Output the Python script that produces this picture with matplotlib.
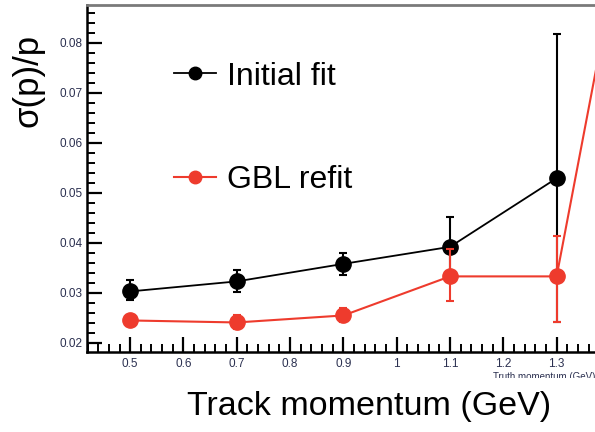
import matplotlib
matplotlib.use("Agg")
import matplotlib.pyplot as plt
from matplotlib.ticker import MultipleLocator, FixedLocator, FixedFormatter
from matplotlib.transforms import Bbox, TransformedBbox
from matplotlib.lines import Line2D

plt.rcParams["font.family"] = ["Liberation Sans", "DejaVu Sans"]

momentum = [0.5, 0.7, 0.9, 1.1, 1.3]
initial_fit = [0.0303, 0.0323, 0.0358, 0.0392, 0.0529]
initial_err_lo = [0.0018, 0.0022, 0.0022, 0.0060, 0.0287]
initial_err_hi = [0.0022, 0.0022, 0.0022, 0.0060, 0.0288]

gbl_momentum = [0.5, 0.7, 0.9, 1.1, 1.3, 1.5]
gbl_refit = [0.0245, 0.0241, 0.0255, 0.0333, 0.0333, 0.145]
gbl_err_lo = [0.0006, 0.0014, 0.0014, 0.0050, 0.0092, 0.0]
gbl_err_hi = [0.0006, 0.0014, 0.0014, 0.0054, 0.0080, 0.0]

x_ticks = [0.5, 0.6, 0.7, 0.8, 0.9, 1.0, 1.1, 1.2, 1.3]
x_tick_labels = ["0.5", "0.6", "0.7", "0.8", "0.9", "1", "1.1", "1.2", "1.3"]
y_ticks = [0.02, 0.03, 0.04, 0.05, 0.06, 0.07, 0.08]
y_tick_labels = ["0.02", "0.03", "0.04", "0.05", "0.06", "0.07", "0.08"]

RED = "#ee3b2d"
TICK_COLOR = "#2b3050"

fig = plt.figure(figsize=(5.95, 4.32), dpi=100)
ax = fig.add_axes([87 / 595, 1 - 352 / 432, 1 - 87 / 595, 347 / 432])

ax.errorbar(momentum, initial_fit, yerr=[initial_err_lo, initial_err_hi],
            color="black", marker="o", markersize=11, linewidth=1.3,
            elinewidth=1.5, capsize=3, capthick=1.5, zorder=3)
ax.errorbar(gbl_momentum, gbl_refit, yerr=[gbl_err_lo, gbl_err_hi],
            color=RED, marker="o", markersize=11, linewidth=1.5,
            elinewidth=1.5, capsize=3, capthick=1.5, zorder=4)

ax.set_xlim(0.419, 1.372)
ax.set_ylim(0.0182, 0.0875)

ax.xaxis.set_major_locator(FixedLocator(x_ticks))
ax.xaxis.set_major_formatter(FixedFormatter(x_tick_labels))
ax.xaxis.set_minor_locator(MultipleLocator(0.02))
ax.yaxis.set_major_locator(FixedLocator(y_ticks))
ax.yaxis.set_major_formatter(FixedFormatter(y_tick_labels))
ax.yaxis.set_minor_locator(MultipleLocator(0.002))

ax.tick_params(which="major", direction="in", length=11, width=1.6,
               labelsize=8.5, labelcolor=TICK_COLOR)
ax.tick_params(axis="x", which="major", pad=4)
ax.tick_params(axis="y", which="major", pad=3)
ax.tick_params(which="minor", direction="in", length=6, width=1.4)
ax.tick_params(top=False, right=False, which="both")

ax.spines["right"].set_visible(False)
ax.spines["left"].set_linewidth(1.8)
ax.spines["bottom"].set_linewidth(1.8)
ax.spines["top"].set_linewidth(2.0)
ax.spines["top"].set_color("#7a7a7a")

handles = [
    Line2D([], [], color="black", marker="o", markersize=9, linewidth=1.3),
    Line2D([], [], color=RED, marker="o", markersize=9, linewidth=1.5),
]
ax.legend(handles, ["Initial fit", "GBL refit"], loc="upper left",
          bbox_to_anchor=(0.115, 0.92), frameon=False, fontsize=23,
          handlelength=1.3, handletextpad=0.35, labelspacing=2.3)

fig.text(28 / 595, 1 - 80 / 432, "σ(p)/p", rotation=90, fontsize=25,
         ha="center", va="center")
fig.text(369 / 595, 1 - 407 / 432, "Track momentum (GeV)", fontsize=24.5,
         ha="center", va="center")

# axis title of the original plot, cut off at the bottom
small = fig.text(1.0, 1 - 372 / 432, "Truth momentum (GeV)", fontsize=7,
                 ha="right", va="top", color=TICK_COLOR)
small.set_clip_box(TransformedBbox(Bbox([[0, 1 - 378 / 432], [1, 1]]),
                                   fig.transFigure))
small.set_clip_on(True)

fig.savefig("out.png", dpi=100)
